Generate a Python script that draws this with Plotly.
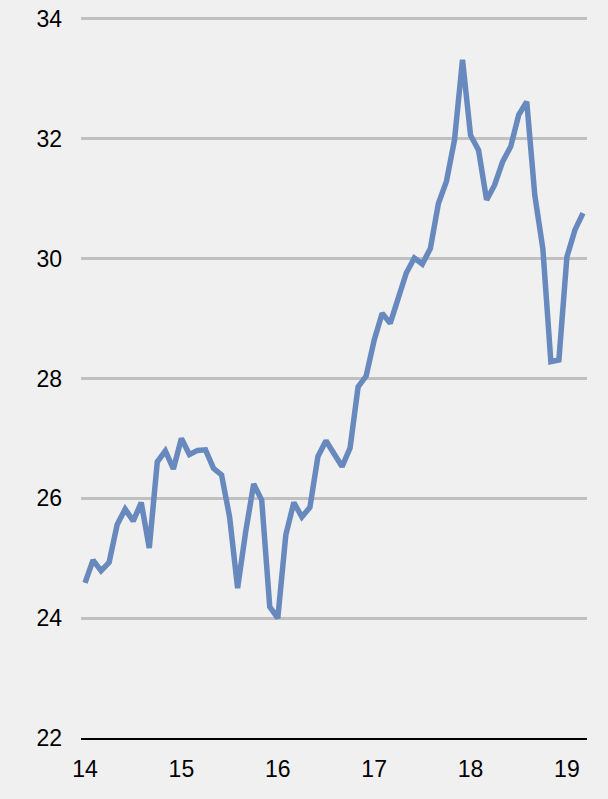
import plotly.graph_objects as go

# Monthly observations, Jan 2014 – Mar 2019
months = [f"{y}-{m:02d}" for y in range(2014, 2020) for m in range(1, 13)][:63]
values = [
    24.59, 24.97, 24.79, 24.93, 25.56, 25.82, 25.62, 25.93, 25.17, 26.61, 26.79, 26.49,
    27.00, 26.73, 26.80, 26.81, 26.50, 26.39, 25.69, 24.50, 25.44, 26.24, 25.97, 24.19,
    24.00, 25.39, 25.93, 25.69, 25.85, 26.70, 26.96, 26.73, 26.53, 26.84, 27.86, 28.04,
    28.64, 29.09, 28.92, 29.34, 29.76, 30.01, 29.91, 30.17, 30.92, 31.29, 31.98, 33.32,
    32.06, 31.81, 30.98, 31.23, 31.62, 31.87, 32.40, 32.62, 31.06, 30.17, 28.28, 28.31,
    30.03, 30.48, 30.76,
]
year_ticks = ["2014-01", "2015-01", "2016-01", "2017-01", "2018-01", "2019-01"]
year_labels = ["14", "15", "16", "17", "18", "19"]
y_ticks = [22, 24, 26, 28, 30, 32, 34]

bg = "#f0f0f0"
font = dict(family="Liberation Sans, Arial, sans-serif", size=23, color="#000000")

fig = go.Figure(
    go.Scatter(
        x=months,
        y=values,
        mode="lines",
        line=dict(color="#6889be", width=5.5),
        hoverinfo="skip",
    )
)

fig.update_layout(
    width=608,
    height=799,
    margin=dict(l=81, r=21, t=17, b=61, autoexpand=False),
    paper_bgcolor=bg,
    plot_bgcolor=bg,
    showlegend=False,
    font=font,
)

fig.update_xaxes(
    type="category",
    range=[-0.5, len(months) - 0.5],
    tickmode="array",
    tickvals=year_ticks,
    ticktext=year_labels,
    showgrid=False,
    showline=True,
    linecolor="#000000",
    linewidth=2,
    ticks="",
    ticklabelstandoff=9,
    tickfont=font,
    automargin=False,
)

# a little headroom above 34 keeps the top gridline inside the plot area
fig.update_yaxes(
    range=[22, 34.033],
    tickmode="array",
    tickvals=y_ticks,
    showgrid=True,
    gridcolor="#c0c0c0",
    gridwidth=2.5,
    zeroline=False,
    showline=False,
    ticks="",
    ticklabelstandoff=18,
    tickfont=font,
    automargin=False,
)

fig.write_html("out.html")
